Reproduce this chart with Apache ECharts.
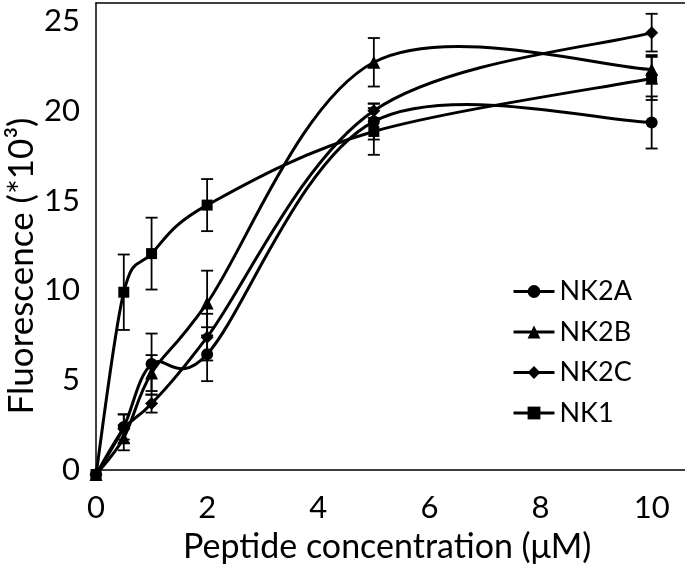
<!DOCTYPE html>
<html><head><meta charset="utf-8">
<script src="https://cdn.jsdelivr.net/npm/echarts@6/dist/echarts.min.js"></script>
<style>html,body{margin:0;padding:0;background:#fff}#c{width:685px;height:567px}</style>
</head><body><div id="c"></div>
<script>
const concentrations = [0, 0.5, 1, 2, 5, 10];
const seriesNames = ['NK2A', 'NK2B', 'NK2C', 'NK1'];
const nk2aValues = [-0.25, 2.4, 5.9, 6.45, 19.4, 19.35];
const nk2aErrors = [0, 0.7, 1.7, 1.5, 1.0, 1.45];
const nk2bValues = [-0.25, 1.8, 5.4, 9.3, 22.7, 22.3];
const nk2bErrors = [0, 0.7, 1.0, 1.8, 1.35, 0.8];
const nk2cValues = [-0.25, 2.3, 3.7, 7.4, 20.0, 24.35];
const nk2cErrors = [0, 0.8, 0.5, 1.3, 0.4, 1.05];
const nk1Values = [-0.25, 9.9, 12.05, 14.75, 18.85, 21.8];
const nk1Errors = [0, 2.1, 2.0, 1.45, 1.3, 1.2];
const xTickValues = [0, 2, 4, 6, 8, 10];
const yTickValues = [0, 5, 10, 15, 20, 25];
const xTitle = 'Peptide concentration (μM)';
const yTitle = 'Fluorescence (*10³)';

const FONT = 'Lato';
const valuesList = [nk2aValues, nk2bValues, nk2cValues, nk1Values];
const errorsList = [nk2aErrors, nk2bErrors, nk2cErrors, nk1Errors];
const symbols = ['circle', 'triangle', 'diamond', 'rect'];
const symbolSizes = [12, 13, 13, 11];

function pairs(vals) { return concentrations.map((x, i) => [x, vals[i]]); }
function errTriples(vals, errs) { return concentrations.map((x, i) => [x, vals[i], errs[i]]); }

function renderErr(params, api) {
  const x = api.value(0), y = api.value(1), e = api.value(2);
  if (!e) return null;
  const t = api.coord([x, y + e]);
  const b = api.coord([x, y - e]);
  const w = 6;
  const st = { stroke: '#000', lineWidth: 1.8 };
  return { type: 'group', children: [
    { type: 'line', shape: { x1: t[0], y1: t[1], x2: b[0], y2: b[1] }, style: st },
    { type: 'line', shape: { x1: t[0] - w, y1: t[1], x2: t[0] + w, y2: t[1] }, style: st },
    { type: 'line', shape: { x1: b[0] - w, y1: b[1], x2: b[0] + w, y2: b[1] }, style: st }
  ]};
}

function clampVec(v, maxLen) {
  const l = Math.hypot(v[0], v[1]);
  if (l <= maxLen || l === 0) return v;
  const s = maxLen / l;
  return [v[0] * s, v[1] * s];
}

// Excel-like smoothed segment (Catmull-Rom as cubic Bezier) between data point i and i+1
function makeCurveRenderer(vals) {
  return function (params, api) {
    const i = params.dataIndex;
    const n = concentrations.length;
    if (i >= n - 1) return null;
    const P = concentrations.map((x, k) => api.coord([x, vals[k]]));
    const p0 = P[Math.max(i - 1, 0)], p1 = P[i], p2 = P[i + 1], p3 = P[Math.min(i + 2, n - 1)];
    const seg = Math.hypot(p2[0] - p1[0], p2[1] - p1[1]);
    const t1 = clampVec([(p2[0] - p0[0]) / 6, (p2[1] - p0[1]) / 6], 0.8 * seg);
    const t2 = clampVec([(p3[0] - p1[0]) / 6, (p3[1] - p1[1]) / 6], 0.8 * seg);
    const c1 = [p1[0] + t1[0], p1[1] + t1[1]];
    const c2 = [p2[0] - t2[0], p2[1] - t2[1]];
    return {
      type: 'bezierCurve',
      shape: { x1: p1[0], y1: p1[1], x2: p2[0], y2: p2[1], cpx1: c1[0], cpy1: c1[1], cpx2: c2[0], cpy2: c2[1] },
      style: { stroke: '#000', lineWidth: 3, fill: null }
    };
  };
}

const series = [];
seriesNames.forEach((name, i) => {
  series.push({
    name: 'err_' + name, type: 'custom', renderItem: renderErr,
    data: errTriples(valuesList[i], errorsList[i]),
    encode: { x: 0, y: 1 }, z: 1, silent: true
  });
  series.push({
    name: 'curve_' + name, type: 'custom', renderItem: makeCurveRenderer(valuesList[i]),
    data: pairs(valuesList[i]),
    encode: { x: 0, y: 1 }, z: 2, silent: true
  });
});
seriesNames.forEach((name, i) => {
  series.push({
    name: name, type: 'line', data: pairs(valuesList[i]),
    symbol: symbols[i], symbolSize: symbolSizes[i],
    showAllSymbol: true,
    lineStyle: { color: '#000', width: 3, opacity: 0 },
    itemStyle: { color: '#000', borderColor: '#000', borderWidth: 0 },
    z: 3, animation: false
  });
});

const chart = echarts.init(document.getElementById('c'), null, { renderer: 'canvas' });
chart.setOption({
  animation: false,
  backgroundColor: '#fff',
  grid: { left: 96, top: 3, width: 589, height: 473, containLabel: false },
  xAxis: [{
    type: 'value', min: 0, max: 10.6,
    axisLine: { show: true, lineStyle: { color: '#000', width: 1.5 } },
    axisTick: { show: false },
    splitLine: { show: false },
    axisLabel: { customValues: xTickValues, margin: 16, color: '#000', fontFamily: FONT, fontSize: 31 }
  }, {
    type: 'value', min: 0, max: 10.6, position: 'top',
    axisLine: { show: true, onZero: false, lineStyle: { color: '#000', width: 1.5 } },
    axisTick: { show: false }, axisLabel: { show: false }, splitLine: { show: false }
  }],
  yAxis: {
    type: 'value', min: -0.33, max: 26,
    axisLine: { show: true, onZero: false, lineStyle: { color: '#000', width: 1.5 } },
    axisTick: { show: false },
    splitLine: { show: false },
    axisLabel: { customValues: yTickValues, margin: 16, color: '#000', fontFamily: FONT, fontSize: 31 }
  },
  legend: {
    data: seriesNames, orient: 'vertical', left: 507, top: 273,
    itemWidth: 41, itemHeight: 16, itemGap: 13.5,
    lineStyle: { color: '#000', width: 3, opacity: 1 },
    textStyle: { color: '#000', fontFamily: FONT, fontSize: 27 },
    selectedMode: false
  },
  graphic: [
    { type: 'text', left: 183, top: 530,
      style: { text: xTitle, font: '34px ' + FONT, fill: '#000' } },
    { type: 'text', x: 22, y: 266, rotation: Math.PI / 2,
      style: { text: yTitle, font: '35px ' + FONT, fill: '#000', align: 'center', verticalAlign: 'middle' } }
  ],
  series: series
});
</script></body></html>
